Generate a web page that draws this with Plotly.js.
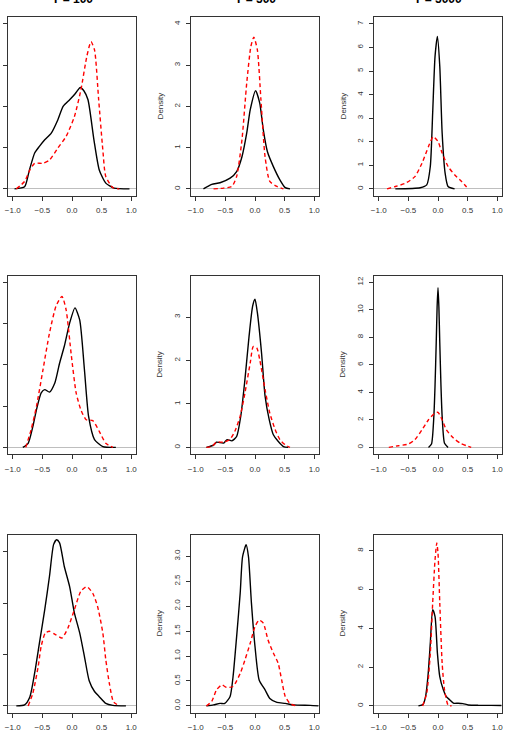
<!DOCTYPE html>
<html><head><meta charset="utf-8">
<script src="https://cdn.plot.ly/plotly-3.0.1.min.js"></script>
<style>html,body{margin:0;padding:0;background:#fff;}#chart{width:508px;height:752px;}</style>
</head><body><div id="chart"></div>
<script>
// Column titles
var colTitles = ["T = 100", "T = 500", "T = 5000"];
var xTicks = [-1.0, -0.5, 0.0, 0.5, 1.0];

// Row 1
var p1BlackX = [-0.97,-0.8,-0.72,-0.63,-0.55,-0.46,-0.35,-0.24,-0.15,-0.04,0.05,0.14,0.2,0.27,0.37,0.46,0.57,0.71,0.97];
var p1BlackY = [0,0.05,0.45,0.87,1.03,1.19,1.35,1.67,2.0,2.16,2.3,2.46,2.38,2.16,1.19,0.46,0.14,0.02,0];
var p1RedX = [-0.94,-0.8,-0.71,-0.63,-0.49,-0.38,-0.24,-0.1,0.04,0.15,0.25,0.32,0.38,0.45,0.52,0.57,0.69,0.8];
var p1RedY = [0,0.18,0.46,0.62,0.62,0.7,0.99,1.27,1.75,2.4,3.21,3.57,3.37,2.16,0.95,0.3,0.03,0];

var p2BlackX = [-0.87,-0.73,-0.59,-0.42,-0.31,-0.22,-0.14,-0.08,0.01,0.08,0.14,0.21,0.31,0.42,0.51,0.59];
var p2BlackY = [0,0.11,0.15,0.26,0.42,0.78,1.35,1.92,2.38,2.08,1.43,0.9,0.54,0.22,0.03,0];
var p2RedX = [-0.7,-0.53,-0.39,-0.31,-0.22,-0.14,-0.07,-0.02,0.04,0.1,0.17,0.25,0.37,0.48];
var p2RedY = [0,0.02,0.06,0.3,1.19,2.56,3.45,3.68,3.37,2.16,0.78,0.18,0.06,0];

var p3BlackX = [-0.72,-0.3,-0.19,-0.13,-0.09,-0.05,-0.01,0.03,0.07,0.12,0.17,0.28];
var p3BlackY = [0,0.05,0.17,0.95,3.22,5.62,6.47,5.2,2.37,0.67,0.1,0];
var p3RedX = [-0.86,-0.72,-0.55,-0.39,-0.27,-0.16,-0.08,0.0,0.07,0.17,0.28,0.4,0.51];
var p3RedY = [0,0.1,0.24,0.52,1.09,1.8,2.22,2.01,1.52,0.95,0.6,0.31,0];

// Row 2
var p4BlackX = [-0.83,-0.74,-0.66,-0.6,-0.52,-0.46,-0.38,-0.29,-0.21,-0.13,-0.04,0.05,0.13,0.21,0.28,0.38,0.52,0.74];
var p4BlackY = [0,0.1,0.51,0.91,1.32,1.4,1.34,1.56,2.04,2.45,3.01,3.38,3.09,1.88,0.75,0.19,0.02,0];
var p4RedX = [-0.78,-0.69,-0.6,-0.49,-0.38,-0.27,-0.17,-0.1,-0.01,0.07,0.15,0.24,0.35,0.46,0.57,0.69];
var p4RedY = [0,0.43,0.99,1.88,2.77,3.42,3.66,3.34,2.21,1.32,0.91,0.67,0.65,0.39,0.1,0];

var p5BlackX = [-0.82,-0.7,-0.65,-0.53,-0.47,-0.39,-0.31,-0.24,-0.17,-0.1,-0.04,0.0,0.04,0.11,0.17,0.24,0.31,0.39,0.48,0.56];
var p5BlackY = [0,0.05,0.12,0.1,0.18,0.15,0.25,0.72,1.56,2.56,3.25,3.41,3.1,2.18,1.18,0.64,0.29,0.14,0.02,0];
var p5RedX = [-0.82,-0.73,-0.65,-0.53,-0.42,-0.34,-0.25,-0.17,-0.08,-0.03,0.03,0.08,0.17,0.25,0.34,0.42,0.51,0.59];
var p5RedY = [0,0.02,0.12,0.12,0.19,0.37,0.72,1.25,1.95,2.32,2.29,2.02,1.33,0.79,0.41,0.18,0.06,0];

var p6BlackX = [-0.16,-0.11,-0.07,-0.05,-0.03,-0.015,0.0,0.015,0.03,0.05,0.07,0.11,0.17];
var p6BlackY = [0,0.24,2.25,4.5,7.6,10.2,11.6,10.2,7.6,4.5,2.25,0.3,0];
var p6RedX = [-0.83,-0.67,-0.5,-0.39,-0.27,-0.16,-0.05,0.0,0.07,0.14,0.26,0.37,0.48,0.56];
var p6RedY = [0,0.12,0.24,0.56,1.28,2.01,2.5,2.55,2.01,1.28,0.68,0.32,0.12,0];

// Row 3
var p7BlackX = [-0.94,-0.8,-0.71,-0.63,-0.55,-0.46,-0.38,-0.31,-0.26,-0.21,-0.13,-0.04,0.04,0.13,0.21,0.29,0.38,0.46,0.57,0.69,0.91];
var p7BlackY = [0,0.02,0.18,0.64,1.22,1.87,2.52,3.14,3.23,3.17,2.71,2.32,1.81,1.42,0.96,0.49,0.28,0.18,0.05,0.01,0];
var p7RedX = [-0.74,-0.66,-0.57,-0.52,-0.45,-0.38,-0.27,-0.17,-0.07,0.04,0.15,0.25,0.35,0.43,0.52,0.57,0.63,0.7,0.8];
var p7RedY = [0,0.25,0.77,1.16,1.42,1.45,1.38,1.32,1.51,1.87,2.23,2.32,2.19,1.94,1.42,0.9,0.44,0.08,0];

var p8BlackX = [-0.82,-0.7,-0.59,-0.51,-0.42,-0.37,-0.31,-0.25,-0.21,-0.15,-0.11,-0.06,0.0,0.07,0.17,0.25,0.37,0.51,0.65,0.93,1.07];
var p8BlackY = [0,0.02,0.05,0.05,0.19,0.59,1.39,2.26,2.99,3.23,2.99,2.06,1.19,0.52,0.32,0.15,0.07,0.05,0.02,0.01,0.0];
var p8RedX = [-0.82,-0.73,-0.65,-0.56,-0.48,-0.37,-0.25,-0.17,-0.08,0.0,0.07,0.14,0.22,0.31,0.39,0.45,0.51,0.59,0.69];
var p8RedY = [0,0.09,0.32,0.42,0.37,0.39,0.65,0.92,1.26,1.59,1.72,1.66,1.32,1.06,0.86,0.52,0.19,0.05,0];

var p9BlackX = [-0.33,-0.25,-0.21,-0.17,-0.13,-0.09,-0.05,-0.01,0.03,0.09,0.14,0.2,0.26,0.34,0.42,0.51,0.68,0.9,1.07];
var p9BlackY = [0,0.09,0.48,1.51,3.24,4.96,4.61,2.72,1.51,0.83,0.48,0.31,0.14,0.14,0.12,0.05,0.03,0.03,0.02];
var p9RedX = [-0.26,-0.19,-0.13,-0.09,-0.05,-0.02,0.0,0.03,0.07,0.11,0.17,0.23];
var p9RedY = [0,0.65,2.72,5.3,7.54,8.4,7.88,5.3,2.2,0.83,0.05,0];

// y axis settings per panel (ylim max and tick values)
var yMax = [4, 4, 7, 4, 3.8, 12, 3.2, 3.3, 8.49];
var yTickVals = [
  [0,1,2,3,4],[0,1,2,3,4],[0,1,2,3,4,5,6,7],
  [0,1,2,3,4],[0,1,2,3],[0,2,4,6,8,10,12],
  [0,1,2,3],[0,0.5,1,1.5,2,2.5,3],[0,2,4,6,8]
];
var yTickFmt = ['d','d','d','d','d','d','d','.1f','d'];

var blacks = [[p1BlackX,p1BlackY],[p2BlackX,p2BlackY],[p3BlackX,p3BlackY],[p4BlackX,p4BlackY],[p5BlackX,p5BlackY],[p6BlackX,p6BlackY],[p7BlackX,p7BlackY],[p8BlackX,p8BlackY],[p9BlackX,p9BlackY]];
var reds = [[p1RedX,p1RedY],[p2RedX,p2RedY],[p3RedX,p3RedY],[p4RedX,p4RedY],[p5RedX,p5RedY],[p6RedX,p6RedY],[p7RedX,p7RedY],[p8RedX,p8RedY],[p9RedX,p9RedY]];

var W = 508, H = 752;
var colPx = [[8,136],[191,319],[374,502]];
var rowPx = [[17.3,195.5],[275.7,454],[534.7,712.5]];
var FONT = 'Liberation Sans, Arial, Helvetica, sans-serif';
var AX = '#333333';

var traces = [];
var layout = {
  width: W, height: H, margin: {l:0,r:0,t:0,b:0},
  paper_bgcolor: '#fff', plot_bgcolor: '#fff', showlegend: false,
  font: {family: FONT, size: 8, color: AX},
  annotations: []
};

for (var i = 0; i < 9; i++) {
  var r = Math.floor(i/3), c = i % 3;
  var n = i + 1;
  var xa = n === 1 ? 'x' : 'x' + n;
  var ya = n === 1 ? 'y' : 'y' + n;
  var xk = n === 1 ? 'xaxis' : 'xaxis' + n;
  var yk = n === 1 ? 'yaxis' : 'yaxis' + n;
  traces.push({x: blacks[i][0], y: blacks[i][1], xaxis: xa, yaxis: ya, type: 'scatter', mode: 'lines',
    line: {color: '#000000', width: 1.4, shape: 'spline', smoothing: 0.6}, hoverinfo: 'skip'});
  traces.push({x: reds[i][0], y: reds[i][1], xaxis: xa, yaxis: ya, type: 'scatter', mode: 'lines',
    line: {color: '#FF0000', width: 1.4, dash: '4px,3px', shape: 'spline', smoothing: 0.6}, hoverinfo: 'skip'});
  var pad = yMax[i] * 0.04;
  layout[xk] = {
    domain: [colPx[c][0]/W, colPx[c][1]/W], anchor: ya,
    range: [-1.08, 1.08], tickvals: xTicks, tickformat: '.1f',
    showline: true, mirror: true, linecolor: AX, linewidth: 1,
    ticks: 'outside', ticklen: 4, tickcolor: AX, tickwidth: 1,
    showgrid: false, zeroline: false, ticklabelstandoff: 3,
    tickfont: {family: FONT, size: 8, color: AX}
  };
  layout[yk] = {
    domain: [1 - rowPx[r][1]/H, 1 - rowPx[r][0]/H], anchor: xa,
    range: [-pad, yMax[i] + pad], tickvals: yTickVals[i], tickformat: yTickFmt[i],
    showline: true, mirror: true, linecolor: AX, linewidth: 1,
    ticks: 'outside', ticklen: 4, tickcolor: AX, tickwidth: 1,
    showgrid: false, zeroline: true, zerolinecolor: '#BEBEBE', zerolinewidth: 1,
    tickangle: -90, ticklabelstandoff: 3,
    tickfont: {family: FONT, size: 8, color: AX}
  };
  if (c > 0) {
    layout.annotations.push({
      text: 'Density', xref: 'paper', yref: 'paper',
      x: (colPx[c][0] - 31)/W, y: 1 - ((rowPx[r][0] + rowPx[r][1])/2)/H,
      xanchor: 'center', yanchor: 'middle', textangle: -90, showarrow: false,
      font: {family: FONT, size: 8, color: AX}
    });
  }
}
for (var c2 = 0; c2 < 3; c2++) {
  layout.annotations.push({
    text: '<b>' + colTitles[c2] + '</b>', xref: 'paper', yref: 'paper',
    x: ((colPx[c2][0] + colPx[c2][1])/2)/W, y: 1 + 1/H,
    xanchor: 'center', yanchor: 'middle', showarrow: false,
    font: {family: FONT, size: 12, color: '#000'}
  });
}

Plotly.newPlot('chart', traces, layout, {staticPlot: true, displayModeBar: false});
</script>
</body></html>
